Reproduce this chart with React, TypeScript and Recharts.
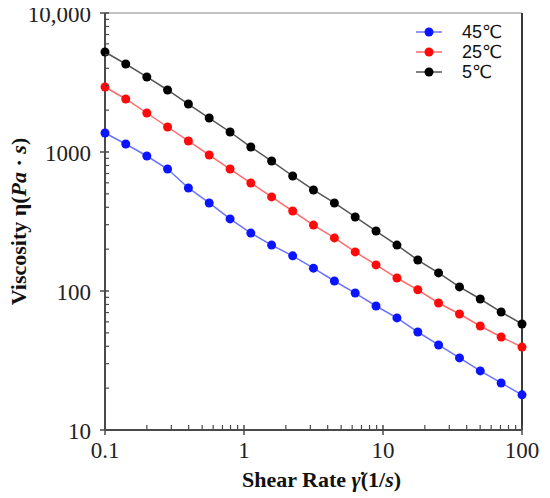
import {
  LineChart,
  Line,
  XAxis,
  YAxis,
  Legend,
  Label,
  ReferenceLine,
} from "recharts";

// shear rate (1/s), 20 log steps over 3 decades
const SHEAR_RATE = [0.1, 0.141, 0.2, 0.282, 0.398, 0.562, 0.794, 1.12, 1.58, 2.24, 3.16, 4.47, 6.31, 8.91, 12.6, 17.8, 25.1, 35.5, 50.1, 70.8, 100];

// viscosity (Pa·s)
const VISC_45 = [1370, 1142, 936, 754, 551, 430, 330, 261, 214, 179, 146, 118, 96.7, 78, 64, 50.7, 40.9, 33, 26.6, 21.8, 17.9];
const VISC_25 = [2935, 2406, 1908, 1513, 1200, 951, 754, 598, 475, 376, 298, 241, 191, 154, 124, 102, 82, 68.3, 56, 46.7, 39.5];
const VISC_5 = [5240, 4297, 3465, 2793, 2214, 1756, 1393, 1086, 861, 672, 533, 430, 341, 270, 214, 167, 135, 107, 87.6, 70.6, 57.9];

const X_TICKS = [0.1, 0.2, 0.3, 0.4, 0.5, 0.6, 0.7, 0.8, 0.9, 1, 2, 3, 4, 5, 6, 7, 8, 9, 10, 20, 30, 40, 50, 60, 70, 80, 90, 100];
const X_LABELS: Record<number, string> = { 0.1: "0.1", 1: "1", 10: "10", 100: "100" };

const Y_TICKS = [10, 20, 30, 40, 50, 60, 70, 80, 90, 100, 200, 300, 400, 500, 600, 700, 800, 900, 1000, 2000, 3000, 4000, 5000, 6000, 7000, 8000, 9000, 10000];
const Y_LABELS: Record<number, string> = { 10: "10", 100: "100", 1000: "1000", 10000: "10,000" };

const SERIES = [
  { key: "v45", name: "45℃", dot: "#0a14ff", line: "#6b73ff" },
  { key: "v25", name: "25℃", dot: "#ff0a0a", line: "#ff6b6b" },
  { key: "v5", name: "5℃", dot: "#000000", line: "#555555" },
];

const data = SHEAR_RATE.map((x, i) => ({
  x,
  v45: VISC_45[i],
  v25: VISC_25[i],
  v5: VISC_5[i],
}));

const SERIF = "'Liberation Serif', 'DejaVu Serif', serif";
const AXIS = "#4a4a4a";

function YTick({ x, y, payload }: any) {
  const label = Y_LABELS[payload.value];
  if (!label) {
    return <line x1={x} x2={x + 4} y1={y} y2={y} stroke={AXIS} strokeWidth={1.2} />;
  }
  return (
    <g>
      <line x1={x - 5} x2={x + 4} y1={y} y2={y} stroke={AXIS} strokeWidth={1.5} />
      <text x={x - 14} y={y} dy={9} textAnchor="end" fontFamily={SERIF} fontSize={23} fill="#222">
        {label}
      </text>
    </g>
  );
}

function XTick({ x, y, payload }: any) {
  const label = X_LABELS[payload.value];
  if (!label) {
    return <line x1={x} x2={x} y1={y} y2={y - 5} stroke={AXIS} strokeWidth={1.2} />;
  }
  return (
    <g>
      <line x1={x} x2={x} y1={y - 5} y2={y + 5} stroke={AXIS} strokeWidth={1.5} />
      <text x={x} y={y} dy={28} textAnchor="middle" fontFamily={SERIF} fontSize={23} fill="#222">
        {label}
      </text>
    </g>
  );
}

function YTitle({ viewBox }: any) {
  const cx = viewBox.x + 18;
  const cy = viewBox.y + viewBox.height / 2;
  return (
    <g transform={`translate(${cx}, ${cy}) rotate(-90)`}>
      <text
        x={0}
        y={0}
        textAnchor="middle"
        fontFamily={SERIF}
        fontSize={22}
        fontWeight="bold"
        fill="#111"
      >
        <tspan>Viscosity η(</tspan>
        <tspan fontStyle="italic">Pa</tspan>
        <tspan> · </tspan>
        <tspan fontStyle="italic">s</tspan>
        <tspan>)</tspan>
      </text>
    </g>
  );
}

function XTitle({ viewBox }: any) {
  const cx = viewBox.x + viewBox.width / 2 + 8;
  const cy = viewBox.y + 57;
  return (
    <text x={cx} y={cy} textAnchor="middle" fontFamily={SERIF} fontSize={22} fontWeight="bold" fill="#111">
      <tspan>Shear Rate </tspan>
      <tspan fontStyle="italic">γ̇</tspan>
      <tspan>(1/</tspan>
      <tspan fontStyle="italic">s</tspan>
      <tspan>)</tspan>
    </text>
  );
}

function LegendBox() {
  return (
    <div style={{ fontFamily: "'Liberation Sans', 'DejaVu Sans', sans-serif", fontSize: 18, color: "#111" }}>
      {SERIES.map((s) => (
        <div key={s.key} style={{ display: "flex", alignItems: "center", height: 20 }}>
          <svg width={28} height={12} style={{ marginRight: 19 }}>
            <line x1={1} x2={27} y1={6} y2={6} stroke={s.line} strokeWidth={1.5} />
            <circle cx={14} cy={6} r={4.5} fill={s.dot} />
          </svg>
          <span>{s.name}</span>
        </div>
      ))}
    </div>
  );
}

export default function App() {
  return (
    <LineChart width={534} height={490} data={data} margin={{ top: 5, right: 20, left: 0, bottom: 8 }}>
      <XAxis
        dataKey="x"
        type="number"
        scale="log"
        domain={[0.1, 100]}
        ticks={X_TICKS}
        interval={0}
        height={60}
        tickSize={0}
        tickMargin={0}
        tickLine={false}
        tick={<XTick />}
        axisLine={{ stroke: AXIS, strokeWidth: 2 }}
      >
        <Label content={<XTitle />} />
      </XAxis>
      <YAxis
        type="number"
        scale="log"
        domain={[10, 10000]}
        ticks={Y_TICKS}
        interval={0}
        width={97}
        tickSize={0}
        tickMargin={0}
        tickLine={false}
        tick={<YTick />}
        axisLine={{ stroke: AXIS, strokeWidth: 2 }}
      >
        <Label content={<YTitle />} />
      </YAxis>
      <ReferenceLine y={10000} stroke="#8a8a8a" strokeWidth={1.2} ifOverflow="visible" />
      <ReferenceLine x={100} stroke="#3a3a3a" strokeWidth={2} ifOverflow="visible" />
      <Legend
        layout="horizontal"
        verticalAlign="middle"
        align="center"
        content={<LegendBox />}
        wrapperStyle={{ top: 14, left: 407, width: "auto", height: "auto" }}
      />
      {SERIES.map((s) => (
        <Line
          key={s.key}
          dataKey={s.key}
          name={s.name}
          type="linear"
          stroke={s.line}
          strokeWidth={1.5}
          dot={{ r: 4.5, fill: s.dot, stroke: s.dot, strokeWidth: 0 }}
          activeDot={false}
          isAnimationActive={false}
        />
      ))}
    </LineChart>
  );
}
